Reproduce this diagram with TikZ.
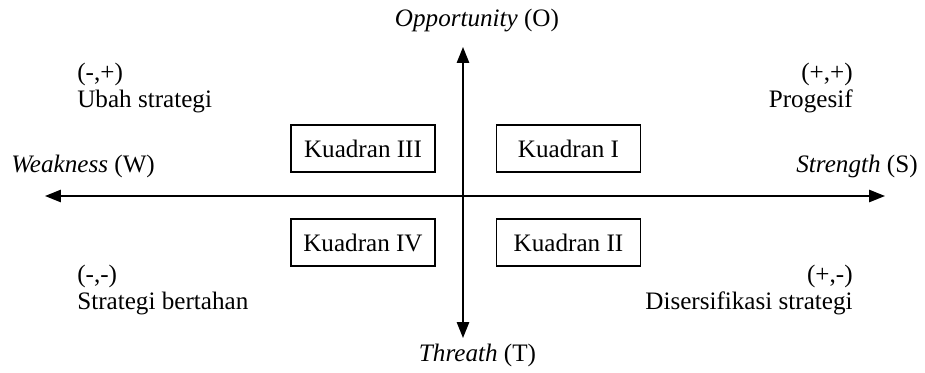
\documentclass[tikz,border=0pt]{standalone}
\usepackage{fontspec}
\setmainfont{Liberation Serif}
\usetikzlibrary{arrows.meta,positioning}

\begin{document}
\begin{tikzpicture}[
  every node/.style={font=\fontsize{14.3}{15.5}\selectfont, inner sep=0pt},
  axis/.style={{Triangle[length=9pt,width=7pt]}-{Triangle[length=9pt,width=7pt]}, line width=0.8pt},
  kuadran/.style={draw, line width=0.6pt, minimum width=2.88cm, minimum height=0.94cm},
  strat/.style={align=left}
]
\useasboundingbox (-9.26,-3.52) rectangle (9.24,3.92);
\coordinate (W) at (-8.36,0);
\coordinate (S) at (8.44,0);
\coordinate (O) at (0,2.98);
\coordinate (T) at (0,-2.84);
\draw[axis] (W) -- (S);
\draw[axis] (T) -- (O);

\node (opp) at (0.28,3.52) {\textit{Opportunity} (O)};
\node (thr) at (0.29,-3.18) {\textit{Threath} (T)};
\node[anchor=west] (weak) at (-9.04,0.6) {\textit{Weakness} (W)};
\node[anchor=east] (str) at (9.1,0.6) {\textit{Strength} (S)};

\node[kuadran] (k3) at (-2.0,0.95) {Kuadran III};
\node[kuadran] (k1) at (2.11,0.95) {Kuadran I};
\node[kuadran] (k4) at (-2.0,-0.93) {Kuadran IV};
\node[kuadran] (k2) at (2.11,-0.93) {Kuadran II};

\node[strat, anchor=west] (ubah) at (-7.72,2.16) {(-,+)\\Ubah strategi};
\node[strat, anchor=east, align=right] (prog) at (7.8,2.16) {(+,+)\\Progesif};
\node[strat, anchor=west] (bert) at (-7.72,-1.88) {(-,-)\\Strategi bertahan};
\node[strat, anchor=east, align=right] (dis) at (7.8,-1.88) {(+,-)\\Disersifikasi strategi};
\end{tikzpicture}
\end{document}
